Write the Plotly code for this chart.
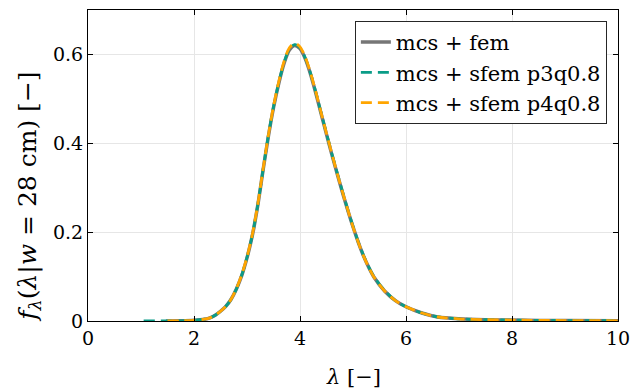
import plotly.graph_objects as go

lam_fem = [1.47, 1.75, 2.0, 2.2, 2.3, 2.4, 2.5, 2.6, 2.7, 2.8, 2.9, 3.0, 3.1, 3.2, 3.3, 3.4, 3.5,
           3.6, 3.7, 3.8, 3.9, 4.0, 4.1, 4.2, 4.3, 4.4, 4.5, 4.6, 4.7, 4.8, 4.9, 5.0, 5.1, 5.2,
           5.3, 5.4, 5.6, 5.8, 6.0, 6.3, 6.6, 7.0, 7.5, 8.0, 9.0, 10.0]
f_fem = [0.0, 0.0003, 0.0015, 0.004, 0.007, 0.013, 0.022, 0.033, 0.049, 0.072, 0.102, 0.142,
         0.192, 0.258, 0.337, 0.413, 0.48, 0.535, 0.58, 0.61, 0.62, 0.613, 0.59, 0.555, 0.512,
         0.466, 0.42, 0.375, 0.332, 0.29, 0.25, 0.212, 0.177, 0.146, 0.12, 0.098, 0.067, 0.046,
         0.032, 0.018, 0.009, 0.005, 0.003, 0.002, 0.001, 0.0005]

lam_p3 = [1.05, 1.5, 1.75, 2.0, 2.2, 2.3, 2.4, 2.5, 2.6, 2.7, 2.8, 2.9, 3.0, 3.1, 3.2, 3.3, 3.4,
          3.5, 3.6, 3.7, 3.8, 3.9, 4.0, 4.1, 4.2, 4.3, 4.4, 4.5, 4.6, 4.7, 4.8, 4.9, 5.0, 5.1,
          5.2, 5.3, 5.4, 5.6, 5.8, 6.0, 6.3, 6.6, 7.0, 7.5, 8.0, 9.0, 10.0]
f_p3 = [0.0, 0.0, 0.0003, 0.0015, 0.004, 0.007, 0.013, 0.022, 0.033, 0.049, 0.072, 0.103,
        0.143, 0.193, 0.259, 0.338, 0.415, 0.482, 0.537, 0.582, 0.612, 0.622, 0.615, 0.592,
        0.557, 0.514, 0.468, 0.422, 0.377, 0.334, 0.292, 0.251, 0.213, 0.178, 0.147, 0.121,
        0.099, 0.068, 0.046, 0.032, 0.018, 0.009, 0.005, 0.003, 0.002, 0.001, 0.0005]

lam_p4 = [1.5, 1.75, 2.0, 2.2, 2.3, 2.4, 2.5, 2.6, 2.7, 2.8, 2.9, 3.0, 3.1, 3.2, 3.3, 3.4, 3.5,
          3.6, 3.7, 3.8, 3.9, 4.0, 4.1, 4.2, 4.3, 4.4, 4.5, 4.6, 4.7, 4.8, 4.9, 5.0, 5.1, 5.2,
          5.3, 5.4, 5.6, 5.8, 6.0, 6.3, 6.6, 7.0, 7.5, 8.0, 9.0, 10.0]
f_p4 = [0.0, 0.0003, 0.0015, 0.004, 0.007, 0.013, 0.022, 0.033, 0.049, 0.073, 0.104, 0.144,
        0.194, 0.26, 0.339, 0.416, 0.483, 0.539, 0.585, 0.615, 0.625, 0.617, 0.594, 0.558,
        0.515, 0.468, 0.422, 0.377, 0.333, 0.291, 0.251, 0.212, 0.177, 0.146, 0.12, 0.098,
        0.067, 0.046, 0.032, 0.018, 0.009, 0.005, 0.003, 0.002, 0.001, 0.0005]

names = ["mcs + fem", "mcs + sfem p3q0.8", "mcs + sfem p4q0.8"]
x_ticks = [0, 2, 4, 6, 8, 10]
y_ticks = [0, 0.2, 0.4, 0.6]

FONT = "DejaVu Serif"

fig = go.Figure()
fig.add_trace(go.Scatter(x=lam_fem, y=f_fem, mode="lines", name=names[0],
                         line=dict(color="#767676", width=3.5, shape="spline", smoothing=0.8)))
fig.add_trace(go.Scatter(x=lam_p3, y=f_p3, mode="lines", name=names[1],
                         line=dict(color="#0a9c87", width=2.8, dash="11px,6px",
                                   shape="spline", smoothing=0.8)))
fig.add_trace(go.Scatter(x=lam_p4, y=f_p4, mode="lines", name=names[2],
                         line=dict(color="#ffa500", width=2.8, dash="11px,6px",
                                   shape="spline", smoothing=0.8)))

fig.update_layout(
    width=631, height=389,
    font=dict(family=FONT, size=19, color="black"),
    margin=dict(l=88, r=13, t=10, b=68),
    paper_bgcolor="white", plot_bgcolor="white",
    showlegend=True,
    legend=dict(x=0.979, y=0.965, xanchor="right", yanchor="top",
                bgcolor="white", bordercolor="#262626", borderwidth=1,
                font=dict(family=FONT, size=21, color="black"),
                tracegroupgap=0),
)
fig.update_xaxes(range=[0, 10], tickvals=x_ticks, ticktext=[str(v) for v in x_ticks],
                 showline=True, linecolor="black", linewidth=1, mirror="ticks",
                 ticks="inside", ticklen=5, tickcolor="black", showgrid=True,
                 gridcolor="#e6e6e6", gridwidth=1, zeroline=False, automargin=False,
                 ticklabeloverflow="allow",
                 tickfont=dict(family=FONT, size=19, color="black"))
fig.update_yaxes(range=[0, 0.7], tickvals=y_ticks, ticktext=["0", "0.2", "0.4", "0.6"],
                 showline=True, linecolor="black", linewidth=1, mirror="ticks",
                 ticks="inside", ticklen=5, tickcolor="black", showgrid=True,
                 gridcolor="#e6e6e6", gridwidth=1, zeroline=False, automargin=False,
                 tickfont=dict(family=FONT, size=19, color="black"))

fig.add_annotation(text="<i>f</i><sub><i>λ</i></sub>(<i>λ</i>|<i>w</i> = 28 cm) [−]",
                   textangle=-90, xref="paper", yref="paper", x=-0.113, y=0.40,
                   xanchor="center", yanchor="middle", showarrow=False,
                   font=dict(family=FONT, size=25, color="black"))
fig.add_annotation(text="<i>λ</i> [−]",
                   xref="paper", yref="paper", x=0.5, y=-0.18,
                   xanchor="center", yanchor="middle", showarrow=False,
                   font=dict(family=FONT, size=21, color="black"))

fig.write_html("out.html")
